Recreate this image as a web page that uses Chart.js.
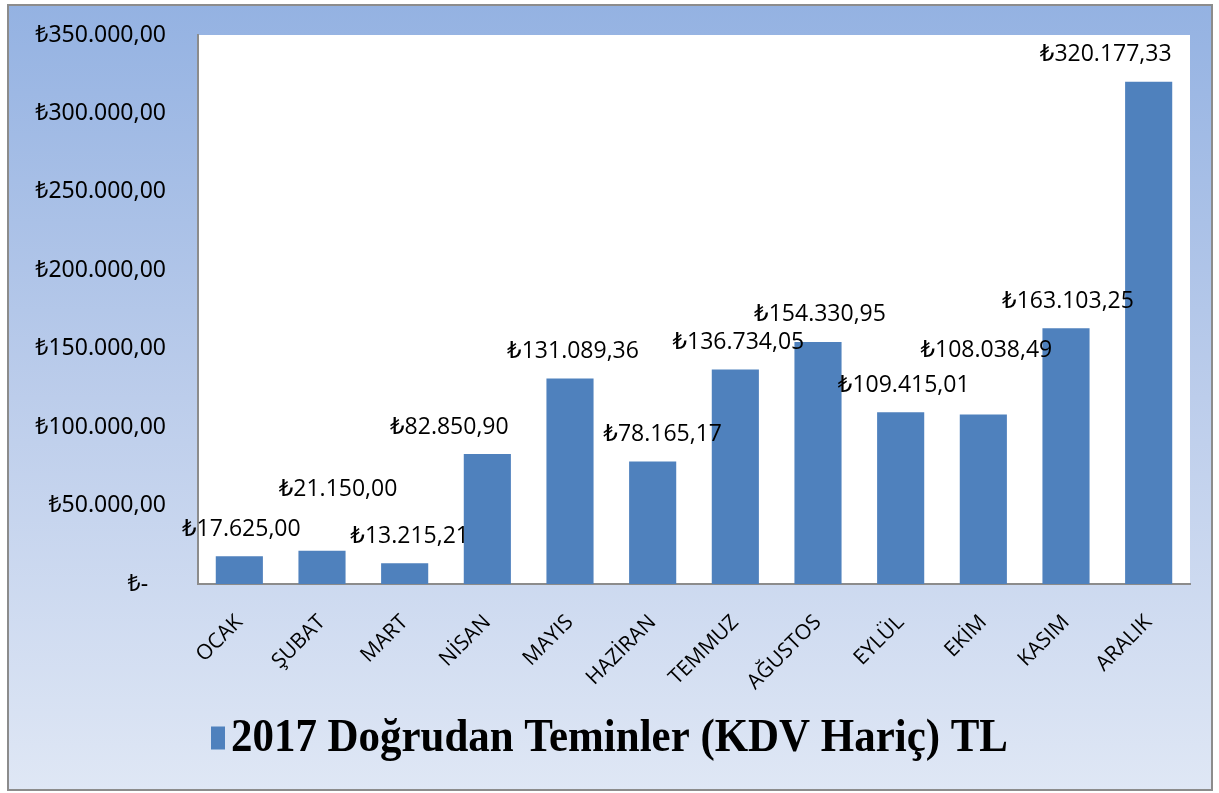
<!DOCTYPE html>
<html>
<head>
<meta charset="utf-8">
<script src="https://cdn.jsdelivr.net/npm/chart.js@4.4.0/dist/chart.umd.min.js"></script>
<style>
  html, body { margin: 0; padding: 0; background: #fff; }
  #wrap { width: 1219px; height: 793px; }
</style>
</head>
<body>
<div id="wrap"><canvas id="chart"></canvas></div>
<script>
// data
const months = ['OCAK', 'ŞUBAT', 'MART', 'NİSAN', 'MAYIS', 'HAZİRAN', 'TEMMUZ', 'AĞUSTOS', 'EYLÜL', 'EKİM', 'KASIM', 'ARALIK'];
const amounts = [17625.00, 21150.00, 13215.21, 82850.90, 131089.36, 78165.17, 136734.05, 154330.95, 109415.01, 108038.49, 163103.25, 320177.33];
const amountLabels = ['₺17.625,00', '₺21.150,00', '₺13.215,21', '₺82.850,90', '₺131.089,36', '₺78.165,17', '₺136.734,05', '₺154.330,95', '₺109.415,01', '₺108.038,49', '₺163.103,25', '₺320.177,33'];
const yTicks = ['₺-   ', '₺50.000,00', '₺100.000,00', '₺150.000,00', '₺200.000,00', '₺250.000,00', '₺300.000,00', '₺350.000,00'];
const seriesName = '2017 Doğrudan Teminler (KDV Hariç) TL';

// labels were nudged by hand in the original, keep the same nudges (px)
const labelShift = [[2, 0], [16, 34], [5, 0], [-38, 0], [3, 0], [10, 0], [3, 0], [2, 0], [3, 0], [3, 37], [2, 0], [-43, 0]];

const BAR_BLUE = '#4f81bd';

// background gradient + outer frame + white plot area
const backdrop = {
    id: 'backdrop',
    beforeDraw(chart) {
        const ctx = chart.ctx;
        const w = chart.width, h = chart.height;
        const g = ctx.createLinearGradient(0, 5, 0, h - 3);
        g.addColorStop(0, '#94b2e2');
        g.addColorStop(0.5, '#bccdeb');
        g.addColorStop(1, '#dfe7f5');
        ctx.save();
        ctx.fillStyle = '#fff';
        ctx.fillRect(0, 0, w, h);
        ctx.fillStyle = g;
        ctx.fillRect(8, 5, w - 15, h - 8);
        ctx.strokeStyle = '#8c8c8c';
        ctx.lineWidth = 2;
        ctx.strokeRect(8, 5, w - 15, h - 8);
        const a = chart.chartArea;
        ctx.fillStyle = '#fff';
        ctx.fillRect(a.left, a.top, a.right - a.left, a.bottom - a.top);
        ctx.restore();
    }
};

// value labels above the bars
const valueLabels = {
    id: 'valueLabels',
    afterDatasetsDraw(chart) {
        const ctx = chart.ctx;
        const meta = chart.getDatasetMeta(0);
        ctx.save();
        ctx.font = '23px "Open Sans", "DejaVu Sans", sans-serif';
        ctx.fillStyle = '#000';
        ctx.textAlign = 'center';
        ctx.textBaseline = 'middle';
        meta.data.forEach((bar, i) => {
            const s = labelShift[i];
            ctx.fillText(amountLabels[i], bar.x + s[0], bar.y - 27 - s[1]);
        });
        ctx.restore();
    }
};

// legend drawn by hand: narrow tall swatch, small gap, condensed bold serif text
const bottomLegend = {
    id: 'bottomLegend',
    afterDraw(chart) {
        const ctx = chart.ctx;
        const ds = chart.data.datasets[0];
        ctx.save();
        ctx.font = 'bold 46px "Liberation Serif", "DejaVu Serif", serif';
        const textW = 777;
        const sx = textW / ctx.measureText(ds.label).width;
        const boxW = 14, boxH = 23, gap = 6;
        const x0 = (chart.width - (boxW + gap + textW)) / 2;
        const cy = 738;
        ctx.fillStyle = ds.backgroundColor;
        ctx.fillRect(x0, cy - boxH / 2, boxW, boxH);
        ctx.fillStyle = '#000';
        ctx.textBaseline = 'middle';
        ctx.textAlign = 'left';
        ctx.translate(x0 + boxW + gap, cy + 1);
        ctx.scale(sx, 1);
        ctx.fillText(ds.label, 0, 0);
        ctx.restore();
    }
};

const ctx = document.getElementById('chart').getContext('2d');
new Chart(ctx, {
    type: 'bar',
    data: {
        labels: months,
        datasets: [{
            label: seriesName,
            data: amounts,
            backgroundColor: BAR_BLUE,
            borderWidth: 0,
            barPercentage: 0.57,
            categoryPercentage: 1
        }]
    },
    options: {
        responsive: true,
        maintainAspectRatio: false,
        animation: false,
        layout: { padding: { left: 10, top: 35, right: 29, bottom: 85 } },
        plugins: {
            tooltip: { enabled: false },
            legend: { display: false }
        },
        scales: {
            x: {
                grid: { display: false, drawTicks: false },
                border: { color: '#8c8c8c', width: 2 },
                ticks: {
                    color: '#000',
                    padding: 26,
                    minRotation: 45,
                    maxRotation: 45,
                    autoSkip: false,
                    font: { family: '"Open Sans", "DejaVu Sans", sans-serif', size: 21 }
                },
                afterFit(scale) { scale.height = 124; }
            },
            y: {
                min: 0,
                max: 350000,
                grid: { display: false, drawTicks: false },
                border: { color: '#8c8c8c', width: 2 },
                ticks: {
                    stepSize: 50000,
                    color: '#000',
                    padding: 32,
                    font: { family: '"Noto Sans", "DejaVu Sans", sans-serif', size: 23 },
                    callback: (v) => yTicks[Math.round(v / 50000)]
                },
                afterFit(scale) {
                    scale.width = 188;
                    scale.paddingTop = 0;
                    scale.paddingBottom = 0;
                }
            }
        }
    },
    plugins: [backdrop, valueLabels, bottomLegend]
});
</script>
</body>
</html>
